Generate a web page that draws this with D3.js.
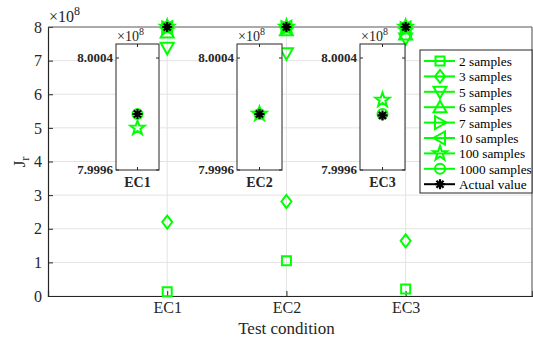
<!DOCTYPE html>
<html>
<head>
<meta charset="utf-8">
<script src="https://cdn.jsdelivr.net/npm/d3@7"></script>
<style>
  body { margin: 0; background: #fff; }
  svg { display: block; }
  svg text { font-family: "Liberation Serif", serif; }
</style>
</head>
<body>
<div id="chart"></div>
<script>
// data (values in units of 1e8)
const categories = ['EC1', 'EC2', 'EC3'];
const seriesNames = ['2 samples', '3 samples', '5 samples', '6 samples', '7 samples',
  '10 samples', '100 samples', '1000 samples', 'Actual value'];
const samples2 = [0.13, 1.05, 0.21];
const samples3 = [2.2, 2.81, 1.64];
const samples5 = [7.38, 7.22, 7.66];
const samples6 = [7.84, 7.9, 7.78];
const samples7 = [7.97, 7.98, 7.95];
const samples10 = [7.98, 7.99, 7.97];
const samples100 = [7.9999, 8.0000, 8.0001];
const samples1000 = [8.0000, 8.0000, 8.0000];
const actualValue = [8.0000, 8.0000, 7.99999];
const yTicks = [0, 1, 2, 3, 4, 5, 6, 7, 8];
const insetTicks = [7.9996, 8.0004];

const allSeries = [samples2, samples3, samples5, samples6, samples7,
  samples10, samples100, samples1000, actualValue];
const markers = ['square', 'diamond', 'tridown', 'triup', 'triright',
  'trileft', 'star', 'circle', 'asterisk'];

const width = 533, height = 340;
const green = '#00ff00';
const axisColor = '#262626';
const gridColor = '#e3e3e3';
const serif = '"Liberation Serif", serif';

const svg = d3.select('#chart').append('svg')
  .attr('width', width).attr('height', height);

const x = d3.scaleLinear().domain([0, 4.06]).range([48, 532]);
const y = d3.scaleLinear().domain([0, 8]).range([296, 27]);

// marker path generator
function markerPath(type) {
  switch (type) {
    case 'square': return 'M-4.5,-4.5H4.5V4.5H-4.5Z';
    case 'diamond': return 'M0,-6.5L5,0L0,6.5L-5,0Z';
    case 'tridown': return 'M-6.5,-5L6.5,-5L0,6.5Z';
    case 'triup': return 'M-6.5,5L6.5,5L0,-6.5Z';
    case 'triright': return 'M-5,-6.5L-5,6.5L6.5,0Z';
    case 'trileft': return 'M5,-6.5L5,6.5L-6.5,0Z';
    case 'star': {
      const pts = d3.range(10).map(i => {
        const r = i % 2 ? 3 : 7.5;
        const a = -Math.PI / 2 + i * Math.PI / 5;
        return [r * Math.cos(a), r * Math.sin(a)];
      });
      return 'M' + pts.join('L') + 'Z';
    }
    case 'circle': return 'M5,0A5,5 0 1,1 -5,0A5,5 0 1,1 5,0Z';
    case 'asterisk': {
      const r = 5;
      return d3.range(4).map(i => {
        const a = i * Math.PI / 4;
        return `M${-r * Math.cos(a)},${-r * Math.sin(a)}L${r * Math.cos(a)},${r * Math.sin(a)}`;
      }).join('');
    }
  }
}

function drawMarker(g, type, px, py) {
  const isAst = type === 'asterisk';
  g.append('path')
    .attr('d', markerPath(type))
    .attr('transform', `translate(${px},${py})`)
    .attr('fill', 'none')
    .attr('stroke', isAst ? '#000' : green)
    .attr('stroke-width', isAst ? 2.2 : 2)
    .attr('stroke-linejoin', 'miter');
}

// grid
const grid = svg.append('g');
grid.selectAll('line.gy').data(yTicks).enter().append('line')
  .attr('x1', x.range()[0]).attr('x2', x.range()[1])
  .attr('y1', d => y(d)).attr('y2', d => y(d))
  .attr('stroke', gridColor).attr('stroke-width', 1);
grid.selectAll('line.gx').data(categories).enter().append('line')
  .attr('x1', (d, i) => x(i + 1)).attr('x2', (d, i) => x(i + 1))
  .attr('y1', y(0)).attr('y2', y(8))
  .attr('stroke', gridColor).attr('stroke-width', 1);

// axes
const yAxis = d3.axisLeft(y).tickValues(yTicks).tickSize(-5).tickPadding(6);
const xAxis = d3.axisBottom(x).tickValues([1, 2, 3])
  .tickFormat((d, i) => categories[i]).tickSize(-5).tickPadding(6);

const gy = svg.append('g').attr('transform', `translate(${x.range()[0]},0)`).call(yAxis);
const gx = svg.append('g').attr('transform', `translate(0,${y(0)})`).call(xAxis);
[gx, gy].forEach(g => {
  g.attr('font-family', serif).attr('font-size', 16);
  g.select('.domain').attr('stroke', axisColor).attr('stroke-width', 1.2);
  g.selectAll('.tick line').attr('stroke', axisColor);
  g.selectAll('.tick text').attr('fill', axisColor);
});
// box top/right
svg.append('line').attr('x1', x.range()[0]).attr('x2', x.range()[1])
  .attr('y1', y(8)).attr('y2', y(8)).attr('stroke', '#666').attr('stroke-width', 1.2);
svg.append('line').attr('x1', x.range()[1]).attr('x2', x.range()[1])
  .attr('y1', y(8)).attr('y2', y(0)).attr('stroke', '#666').attr('stroke-width', 1.2);

// exponent
const expo = svg.append('text').attr('x', 49).attr('y', 22)
  .attr('fill', axisColor).attr('font-size', 16);
expo.append('tspan').text('\u00d710');
expo.append('tspan').attr('dy', -7).attr('font-size', 12).text('8');

// axis labels
svg.append('text').attr('x', x(2)).attr('y', 334).attr('text-anchor', 'middle')
  .attr('fill', axisColor).attr('font-size', 17).text('Test condition');
const yl = svg.append('text').attr('transform', 'translate(25,162) rotate(-90)')
  .attr('text-anchor', 'middle').attr('fill', axisColor).attr('font-size', 17);
yl.append('tspan').text('J');
yl.append('tspan').attr('dy', 4).attr('font-size', 12).text('r');

// main markers
const marks = svg.append('g');
allSeries.forEach((vals, s) => {
  vals.forEach((v, i) => drawMarker(marks, markers[s], x(i + 1), y(v)));
});

// insets
const insetBoxes = [
  { cat: 'EC1', x0: 116, x1: 159 },
  { cat: 'EC2', x0: 237, x1: 282 },
  { cat: 'EC3', x0: 360, x1: 405 }
];
const iy = d3.scaleLinear().domain([7.9996, 8.0005]).range([170, 44]);
insetBoxes.forEach((b, k) => {
  const ix = d3.scaleLinear().domain([0.5, 1.5]).range([b.x0, b.x1]);
  const g = svg.append('g');
  g.append('rect').attr('x', b.x0).attr('y', 44).attr('width', b.x1 - b.x0).attr('height', 126)
    .attr('fill', '#fff');
  g.append('clipPath').attr('id', 'clip' + k).append('rect')
    .attr('x', b.x0).attr('y', 44).attr('width', b.x1 - b.x0).attr('height', 126);
  const inner = g.append('g').attr('clip-path', `url(#clip${k})`);
  allSeries.forEach((vals, s) => drawMarker(inner, markers[s], ix(1), iy(vals[k])));
  g.append('rect').attr('x', b.x0).attr('y', 44).attr('width', b.x1 - b.x0).attr('height', 126)
    .attr('fill', 'none').attr('stroke', axisColor).attr('stroke-width', 1);
  // ticks
  insetTicks.forEach(t => {
    g.append('line').attr('x1', b.x0).attr('x2', b.x0 + 3).attr('y1', iy(t)).attr('y2', iy(t))
      .attr('stroke', axisColor);
    g.append('line').attr('x1', b.x1).attr('x2', b.x1 - 3).attr('y1', iy(t)).attr('y2', iy(t))
      .attr('stroke', axisColor);
    g.append('text').attr('x', b.x0 - 3).attr('y', iy(t) + 4).attr('text-anchor', 'end')
      .attr('fill', axisColor).attr('font-size', 13).attr('font-weight', 'bold')
      .text(d3.format('.4f')(t));
  });
  g.append('line').attr('x1', ix(1)).attr('x2', ix(1)).attr('y1', 170).attr('y2', 167).attr('stroke', axisColor);
  g.append('line').attr('x1', ix(1)).attr('x2', ix(1)).attr('y1', 44).attr('y2', 47).attr('stroke', axisColor);
  g.append('text').attr('x', ix(1)).attr('y', 187).attr('text-anchor', 'middle')
    .attr('fill', axisColor).attr('font-size', 14).attr('font-weight', 'bold').text(b.cat);
  const e = g.append('text').attr('x', b.x0 + 1).attr('y', 41).attr('fill', axisColor).attr('font-size', 14);
  e.append('tspan').text('\u00d710');
  e.append('tspan').attr('dy', -6).attr('font-size', 10).text('8');
});

// legend
const lg = svg.append('g');
lg.append('rect').attr('x', 420).attr('y', 50).attr('width', 112).attr('height', 143)
  .attr('fill', '#fff').attr('stroke', axisColor).attr('stroke-width', 1);
seriesNames.forEach((name, i) => {
  const ly = 61 + i * 15.4;
  const last = i === seriesNames.length - 1;
  lg.append('line').attr('x1', 424).attr('x2', 455).attr('y1', ly).attr('y2', ly)
    .attr('stroke', last ? '#000' : green).attr('stroke-width', 2);
  drawMarker(lg, markers[i], 440, ly);
  lg.append('text').attr('x', 459).attr('y', ly + 5).attr('fill', '#000')
    .attr('font-size', 13.3).text(name);
});
</script>
</body>
</html>
